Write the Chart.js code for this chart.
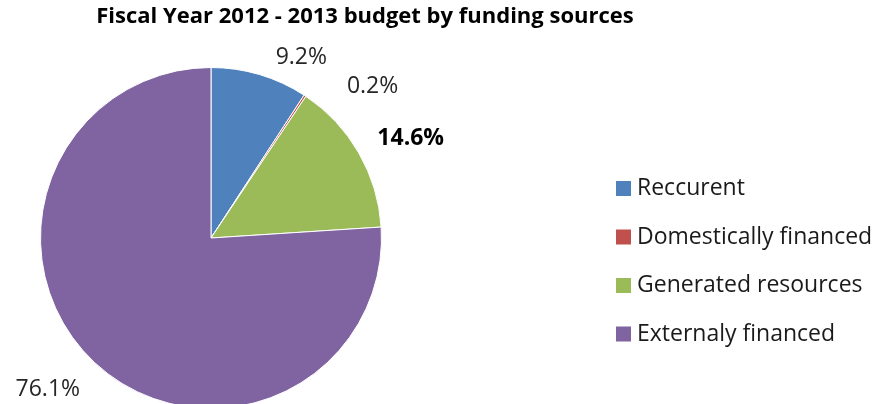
<!DOCTYPE html>
<html>
<head>
<meta charset="utf-8">
<script src="https://cdn.jsdelivr.net/npm/chart.js@4.4.0/dist/chart.umd.min.js"></script>
<style>
  html, body { margin: 0; padding: 0; background: #fff; overflow: hidden; }
  #wrap { width: 876px; height: 404px; overflow: hidden; }
</style>
</head>
<body>
<div id="wrap"><canvas id="pieChart" width="876" height="420"></canvas></div>
<script>
      const chartTitle = 'Fiscal Year 2012 - 2013 budget by funding sources';
      const sources = ['Reccurent', 'Domestically financed', 'Generated resources', 'Externaly financed'];
      const shares = [9.2, 0.2, 14.6, 76.1];
      const sliceColors = ['#4F81BD', '#C0504D', '#9BBB59', '#8064A2'];
      const boldLabels = [false, false, true, false];

      const FONT = '"Open Sans", "Noto Sans", sans-serif';

      // nudges for the percent labels, the way excel shifts them off the pie
      const labelNudge = [[11, 0], [32, 6], [3, -5], [-2, 14]];

      const decorPlugin = {
        id: 'decor',
        afterDraw(chart) {
          const ctx = chart.ctx;
          const meta = chart.getDatasetMeta(0);
          ctx.save();

          // title
          ctx.fillStyle = '#000';
          ctx.font = 'bold 22px ' + FONT;
          ctx.textAlign = 'center';
          ctx.textBaseline = 'middle';
          ctx.fillText(chartTitle, 365, 17);

          // percent labels outside the slices
          meta.data.forEach((arc, i) => {
            const p = arc.getProps(['x', 'y', 'startAngle', 'endAngle', 'outerRadius'], true);
            const mid = (p.startAngle + p.endAngle) / 2;
            const r = p.outerRadius + 18;
            let x = p.x + Math.cos(mid) * r + labelNudge[i][0];
            let y = p.y + Math.sin(mid) * r + labelNudge[i][1];
            ctx.font = (boldLabels[i] ? 'bold ' : '') + '23px ' + FONT;
            ctx.fillStyle = boldLabels[i] ? '#000' : '#262626';
            ctx.textAlign = Math.cos(mid) >= 0 ? 'left' : 'right';
            ctx.textBaseline = 'middle';
            ctx.fillText(shares[i].toFixed(1) + '%', x, y);
          });

          // legend
          const legendX = 616;
          const legendTop = 188.5;
          const rowGap = 48.5;
          chart.data.labels.forEach((label, i) => {
            const y = legendTop + i * rowGap;
            ctx.fillStyle = chart.data.datasets[0].backgroundColor[i];
            ctx.fillRect(legendX, y - 7.5, 15, 15);
            ctx.fillStyle = '#1a1a1a';
            ctx.font = '23px ' + FONT;
            ctx.textAlign = 'left';
            ctx.textBaseline = 'middle';
            ctx.fillText(label, legendX + 21, y);
          });
          ctx.restore();
        }
      };

      const ctx = document.getElementById('pieChart').getContext('2d');
      const chartInstance = new Chart(ctx, {
        type: 'pie',
        data: {
          labels: sources,
          datasets: [{
            data: shares,
            backgroundColor: sliceColors,
            borderColor: '#ffffff',
            borderWidth: 1
          }]
        },
        options: {
          responsive: false,
          animation: false,
          devicePixelRatio: 1,
          layout: { padding: { left: 40, top: 67, right: 494, bottom: 11 } },
          plugins: {
            legend: { display: false },
            tooltip: { enabled: false }
          }
        },
        plugins: [decorPlugin]
      });
</script>
</body>
</html>
